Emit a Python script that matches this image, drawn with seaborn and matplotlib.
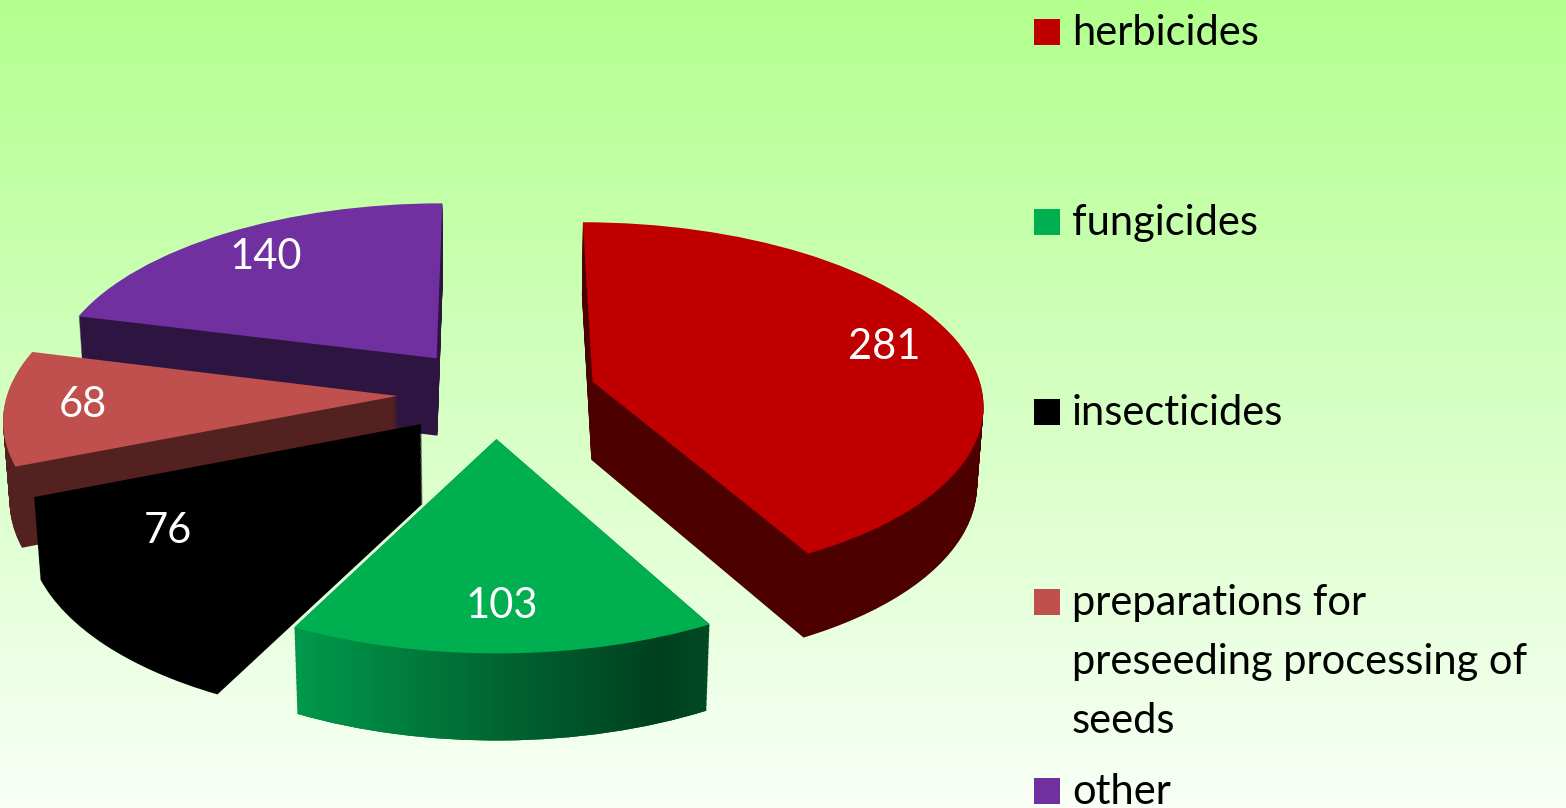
import numpy as np
import matplotlib
matplotlib.use("Agg")
import matplotlib.pyplot as plt
import matplotlib.transforms as mtransforms
import matplotlib.path as mpath
from matplotlib.patches import Rectangle, PathPatch
import seaborn as sns

# ---- data ----
categories = ["herbicides", "fungicides", "insecticides",
              "preparations for\npreseeding processing of\nseeds", "other"]
values = [281, 103, 76, 68, 140]
top_colors = ["#C00000", "#00B050", "#000000", "#C0504D", "#7030A0"]
side_colors = ["#4C0000", "#00622F", "#000000", "#522120", "#2E1440"]
explode = [0.26, 0.25, 0.25, 0.25, 0.25]
green_wall_gradient = ["#009A4C", "#006A33", "#00401F", "#004A25"]

sns.set_theme(style="white")
plt.rcParams["font.family"] = ["Lato", "DejaVu Sans"]

W, H = 1566, 808
fig = plt.figure(figsize=(W / 100, H / 100), dpi=100)

# background gradient
bg = fig.add_axes([0, 0, 1, 1], zorder=-10)
g = np.linspace(0, 1, 256)[:, None, None]
c_top = np.array([178, 255, 142]) / 255
c_bot = np.array([249, 255, 247]) / 255
img = c_top[None, None, :] * (1 - g) + c_bot[None, None, :] * g
bg.imshow(img, aspect="auto", extent=[0, 1, 0, 1], origin="upper")
bg.axis("off")

ax = fig.add_axes([0, 0, 1, 1])
ax.set_facecolor("none")

SCALE = 390.0
CX, CY = 495.0, H - 393.0
SIN = 0.46
COS = np.sqrt(1 - SIN ** 2)
DIST = 8.0
WALL = 0.23
NL = 72


class Tilt(mtransforms.Transform):
    input_dims = 2
    output_dims = 2
    is_separable = False
    has_inverse = False

    def __init__(self, h):
        super().__init__()
        self.h = h

    def transform_non_affine(self, values):
        values = np.asarray(values, dtype=float)
        u, v = values[:, 0], values[:, 1]
        depth = DIST + v * COS - self.h * SIN
        k = DIST / depth
        return np.column_stack([u * k, (v * SIN + self.h * COS) * k])


total = sum(values)
heights = np.linspace(-WALL, 0, NL)
rank = None
green_paths = []
for i, h in enumerate(heights):
    is_top = i == NL - 1
    kw = {}
    if is_top:
        kw = dict(autopct=lambda p: f"{p * total / 100:.0f}", pctdistance=0.8,
                  textprops=dict(color="white", fontsize=30))
    res = ax.pie(values, colors=top_colors if is_top else side_colors,
                 explode=explode, startangle=90, counterclock=False, radius=1,
                 wedgeprops=dict(linewidth=0), **kw)
    wedges = res[0]
    if rank is None:
        mids = [np.deg2rad((w.theta1 + w.theta2) / 2) for w in wedges]
        order = np.argsort(-np.sin(mids))  # back to front
        rank = {int(j): r for r, j in enumerate(order)}
    tr = Tilt(h)
    for j, w in enumerate(wedges):
        w.set_transform(tr + ax.transData)
        w.set_zorder(rank[j] * 1000 + i)
    p = wedges[1].get_path()
    green_paths.append(mpath.Path(tr.transform(p.vertices), p.codes))
    if is_top:
        for t in res[2]:
            t.set_transform(Tilt(0.0) + ax.transData)
            t.set_zorder(10000)
            t.set_ha("center")
            t.set_va("center")

# horizontal shading on the green side wall, clipped to the extruded wedge
clip_path = mpath.Path.make_compound_path(*green_paths)
clip_patch = PathPatch(clip_path, transform=ax.transData, facecolor="none",
                       edgecolor="none")
ax.add_patch(clip_patch)
ext = clip_path.get_extents()
gcols = np.array([matplotlib.colors.to_rgb(c) for c in green_wall_gradient])
xs = np.linspace(0, 1, 300)
stops = np.array([0.0, 0.45, 0.88, 1.0])
grad_img = np.stack([np.interp(xs, stops, gcols[:, c]) for c in range(3)], axis=-1)[None, :, :]
im = ax.imshow(grad_img, extent=[ext.x0, ext.x1, ext.y0, ext.y1], aspect="auto",
               zorder=rank[1] * 1000 + NL - 1.5, interpolation="bilinear")
im.set_clip_path(clip_patch)

ax.set_aspect("auto")
ax.set_xlim(-CX / SCALE, (W - CX) / SCALE)
ax.set_ylim(-CY / SCALE, (H - CY) / SCALE)
ax.axis("off")

# legend (manual, to match the original layout)
baselines = [45, 235, 425, 615, 804]
for lab, col, b in zip(categories, top_colors, baselines):
    fig.patches.append(Rectangle((1034 / W, 1 - b / H), 26 / W, 26 / H,
                                 transform=fig.transFigure, facecolor=col,
                                 edgecolor="none"))
    for k, line in enumerate(lab.split("\n")):
        fig.text(1072 / W, 1 - (b + 59 * k) / H, line, fontsize=30,
                 color="black", va="baseline", ha="left")

fig.savefig("out.png", dpi=100)
